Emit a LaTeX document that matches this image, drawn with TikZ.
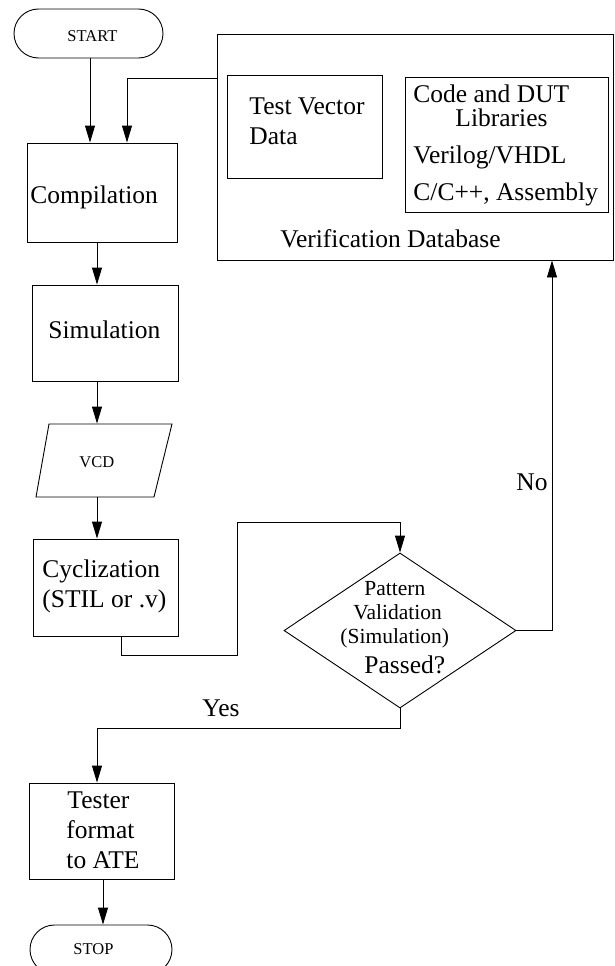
\documentclass[tikz,border=0pt]{standalone}
\usepackage{fontspec}
\setmainfont{Liberation Serif}
\usetikzlibrary{arrows.meta,shapes.geometric,fit}
\begin{document}
\begin{tikzpicture}[x=1pt,y=-1pt,line width=0.9pt,
  box/.style={draw,rectangle,inner sep=0pt},
  term/.style={draw,rectangle,inner sep=0pt,rounded corners=24.5pt},
  arr/.style={-{Triangle[length=17pt,width=10pt]}},
  txt/.style={inner sep=0pt,anchor=base west,font=\fontsize{25.5}{30}\selectfont},
  mtxt/.style={inner sep=0pt,anchor=base west,font=\fontsize{21.5}{25}\selectfont},
  stxt/.style={inner sep=0pt,anchor=base west,font=\fontsize{16.5}{19}\selectfont}]
\useasboundingbox (0,0) rectangle (614,966);
\clip (0,0) rectangle (614,966);

% left column of steps
\node[term,fit={(14,9) (163,58)}] (start) {};
\node[stxt] (tstart) at (67,42) {START};
\node[box,fit={(27,143) (177,242)}] (comp) {};
\node[txt] (tcomp) at (30,203) {Compilation};
\node[box,fit={(32,285) (178,381)}] (sim) {};
\node[txt] (tsim) at (48,338) {Simulation};
\node[inner sep=0pt,fit={(36,424) (172,497)}] (vcd) {};
\draw (49,424) -- (172,424) -- (154,497) -- (36,497) -- cycle;
\node[stxt] (tvcd) at (79,467) {VCD};
\node[box,fit={(33,539) (178,636)}] (cyc) {};
\node[txt] (tcyc1) at (42,577) {Cyclization};
\node[txt] (tcyc2) at (42,607) {(STIL or .v)};
\node[box,fit={(29,783) (174,879)}] (test) {};
\node[txt] (ttest1) at (67,808) {Tester};
\node[txt] (ttest2) at (66,838) {format};
\node[txt] (ttest3) at (66,868) {to ATE};
\node[term,fit={(30,925) (172,974)}] (stop) {};
\node[stxt] (tstop) at (73,954) {STOP};

% verification database
\node[box,fit={(217,34) (613,260)}] (db) {};
\node[box,fit={(227,75) (382,178)}] (tvd) {};
\node[txt] (ttvd1) at (249,114) {Test Vector};
\node[txt] (ttvd2) at (249,144) {Data};
\node[box,fit={(405,77) (608,212)}] (lib) {};
\node[txt] (tlib1) at (413,102) {Code and DUT};
\node[txt] (tlib2) at (455,126) {Libraries};
\node[txt] (tlib3) at (413,163) {Verilog/VHDL};
\node[txt] (tlib4) at (413,200) {C/C++, Assembly};
\node[txt] (tdb) at (280,247) {Verification Database};

% decision
\node[draw,diamond,inner sep=0pt,minimum width=232pt,minimum height=155pt] (dec) at (400,630.5) {};
\node[mtxt] (tdec1) at (364,595) {Pattern};
\node[mtxt] (tdec2) at (353,619) {Validation};
\node[mtxt] (tdec3) at (340,643) {(Simulation)};
\node[txt] (tdec4) at (364,673) {Passed?};

% connectors
\coordinate (xs) at (90,0);
\coordinate (xd) at (127,78);
\coordinate (xa) at (97,0);
\coordinate (c1) at (121,655);
\coordinate (c2) at (237,522);
\coordinate (n1) at (552,0);
\coordinate (y1) at (97,728);
\coordinate (xt) at (103,0);
\draw[arr] (start.south -| xs) -- (comp.north -| xs);
\draw[arr] (db.west |- xd) -| (comp.north -| xd);
\draw[arr] (comp.south -| xa) -- (sim.north -| xa);
\draw[arr] (sim.south -| xa) -- (vcd.north -| xa);
\draw[arr] (vcd.south -| xa) -- (cyc.north -| xa);
\draw[arr] (cyc.south -| c1) -- (c1) -| (c2) -| (dec.north);
\draw[arr] (dec.east) -| (db.south -| n1);
\draw[arr] (dec.south) |- (y1) -- (test.north -| y1);
\draw[arr] (test.south -| xt) -- (stop.north -| xt);
\node[txt] (lno) at (516,490) {No};
\node[txt] (lyes) at (202,716) {Yes};
\end{tikzpicture}
\end{document}
